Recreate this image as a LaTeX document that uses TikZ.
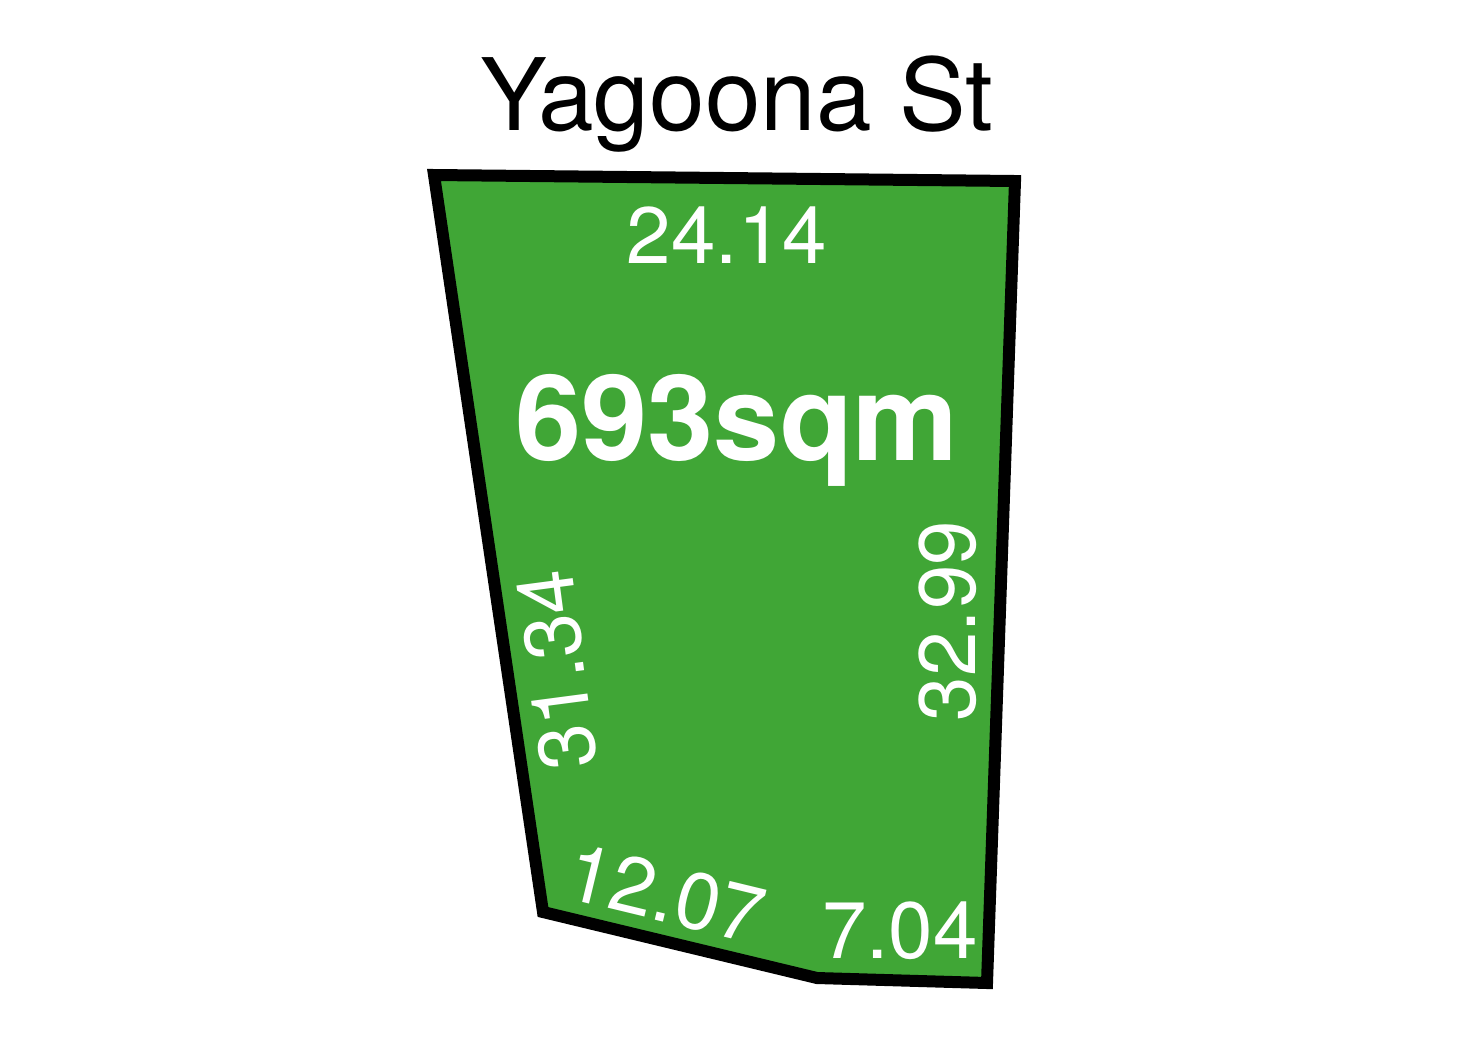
\documentclass[tikz,border=0pt]{standalone}
\usepackage{fontspec}
\setmainfont{TeX Gyre Heros}
\definecolor{lotgreen}{RGB}{64,166,54}
\begin{document}
\begin{tikzpicture}[x=0.5pt,y=0.5pt,
  dim/.style={text=white,font=\fontsize{40}{40}\selectfont,inner sep=0pt},
  lot/.style={fill=lotgreen,draw=black,line width=6pt,line join=miter}]
\useasboundingbox[fill=white] (0,0) rectangle (1472,-1040);
\coordinate (tl) at (434,-175);
\coordinate (tr) at (1015,-181);
\coordinate (br) at (987,-983);
\coordinate (bm) at (817,-978);
\coordinate (bl) at (543,-912);
\path[lot] (tl) -- (tr) -- (br) -- (bm) -- (bl) -- cycle;
\node[anchor=base,inner sep=0pt,font=\fontsize{50}{50}\selectfont] (street) at (737,-130) {Yagoona St};
\node[dim,anchor=base] (top) at (727,-263) {24.14};
\node[anchor=base,inner sep=0pt,text=white,font=\fontsize{59.5}{59.5}\selectfont\bfseries] (area) at (737,-460) {693sqm};
\node[dim,rotate=90] (right) at (948,-621) {32.99};
\node[dim,rotate=97.5] (left) at (557,-670) {31.34};
\node[dim,rotate=-13.6] (bottoml) at (666,-894) {12.07};
\node[dim,anchor=base] (bottomr) at (900,-958) {7.04};
\end{tikzpicture}
\end{document}
